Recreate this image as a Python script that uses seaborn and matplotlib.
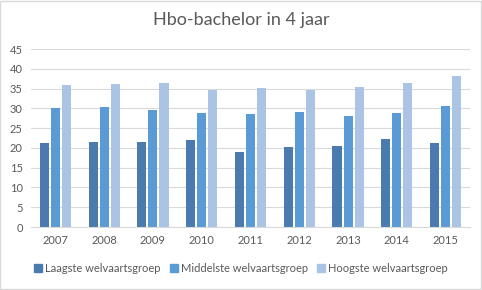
import matplotlib
matplotlib.use("Agg")
import matplotlib.pyplot as plt
import seaborn as sns
import pandas as pd
from matplotlib.patches import Rectangle

years = ["2007", "2008", "2009", "2010", "2011", "2012", "2013", "2014", "2015"]
laagste = [21.2, 21.5, 21.5, 22.0, 19.0, 20.2, 20.5, 22.2, 21.2]
middelste = [30.1, 30.3, 29.6, 28.8, 28.6, 29.1, 28.1, 28.8, 30.6]
hoogste = [35.9, 36.1, 36.4, 34.6, 35.1, 34.6, 35.4, 36.4, 38.2]
series = ["Laagste welvaartsgroep", "Middelste welvaartsgroep", "Hoogste welvaartsgroep"]
colors = ["#4a7aae", "#5b9bd5", "#abc4e4"]

df = pd.DataFrame({
    "jaar": years * 3,
    "waarde": laagste + middelste + hoogste,
    "groep": [series[0]] * 9 + [series[1]] * 9 + [series[2]] * 9,
})

sns.set_theme(style="white")
plt.rcParams["font.family"] = ["Lato", "DejaVu Sans"]

fig = plt.figure(figsize=(4.82, 2.9), dpi=100)
ax = fig.add_axes([31 / 482, 1 - 227 / 290, (470 - 31) / 482, (227 - 49) / 290])

sns.barplot(data=df, x="jaar", y="waarde", hue="groep", palette=colors,
            width=0.68, gap=0.18, ax=ax, legend=False, saturation=1,
            linewidth=0, errorbar=None)

ax.set_ylim(0, 45)
ax.set_yticks(range(0, 46, 5))
ax.set_xlim(-0.5, 8.5)
ax.yaxis.grid(True, color="#d9d9d9", linewidth=0.8)
ax.xaxis.grid(False)
ax.set_axisbelow(True)
for s in ["top", "right", "left"]:
    ax.spines[s].set_visible(False)
ax.spines["bottom"].set_color("#d9d9d9")
ax.spines["bottom"].set_linewidth(0.8)
ax.tick_params(axis="both", length=0, labelsize=8, colors="#595959", pad=6)
ax.set_xlabel("")
ax.set_ylabel("")

fig.text(0.5, 1 - 20 / 290, "Hbo-bachelor in 4 jaar", ha="center", va="center",
         fontsize=13, color="#595959")

handles = [Rectangle((0, 0), 1, 1, color=c) for c in colors]
fig.legend(handles, series, loc="center", bbox_to_anchor=(0.5, 1 - 268 / 290),
           ncol=3, frameon=False, fontsize=8, labelcolor="#595959",
           handlelength=0.7, handleheight=0.7, handletextpad=0.3, columnspacing=0.8)

fig.patches.append(Rectangle((0.001, 0.002), 0.997, 0.995, transform=fig.transFigure,
                             fill=False, edgecolor="#d9d9d9", linewidth=1))

fig.savefig("out.png", dpi=100)
